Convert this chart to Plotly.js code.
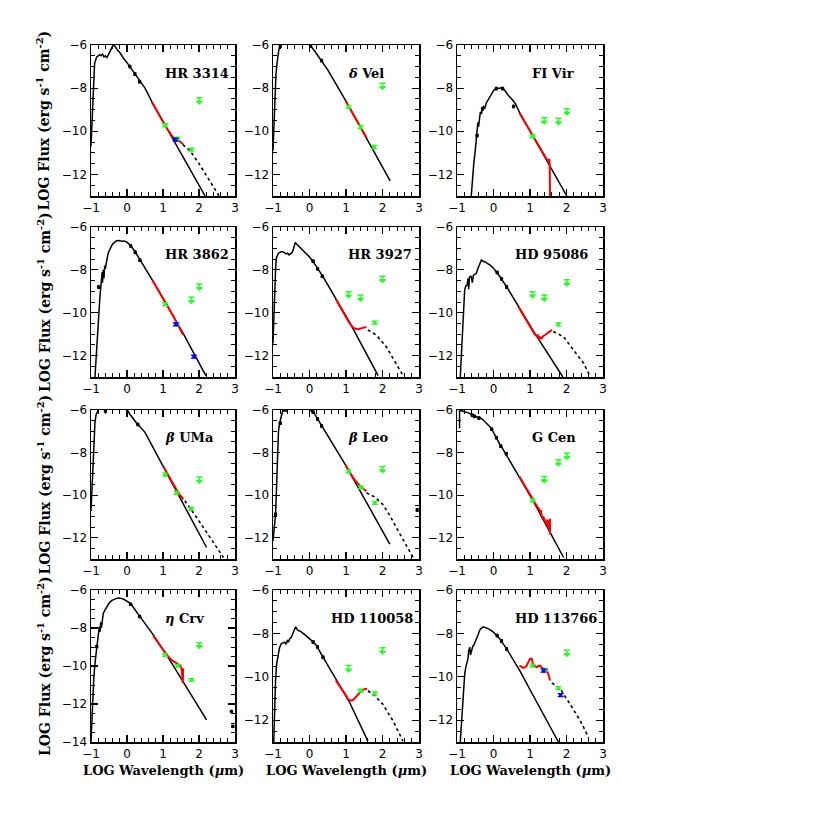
<!DOCTYPE html>
<html><head><meta charset="utf-8">
<script src="https://cdn.plot.ly/plotly-3.0.1.min.js"></script>
<style>html,body{margin:0;padding:0;background:#fff}#chart{width:830px;height:830px}</style>
</head><body><div id="chart"></div>
<script>
// ---------------- DATA (log wavelength [um], log flux [erg s-1 cm-2]) ----------------
const panelNames = ["HR 3314", "<i>δ</i> Vel", "FI Vir", "HR 3862", "HR 3927", "HD 95086",
                    "<i>β</i> UMa", "<i>β</i> Leo", "G Cen", "<i>η</i> Crv", "HD 110058", "HD 113766"];
const xTickVals = [-1, 0, 1, 2, 3];

// HR 3314
const HR3314_star = [[-1.0,-10.7],[-0.98,-10.0],[-0.96,-9.2],[-0.94,-8.0],[-0.92,-7.2],[-0.9,-6.85],[-0.87,-6.7],[-0.84,-6.55],[-0.8,-6.5],[-0.76,-6.45],[-0.72,-6.5],[-0.68,-6.42],[-0.64,-6.55],[-0.6,-6.5],[-0.56,-6.6],[-0.52,-6.45],[-0.48,-6.35],[-0.44,-6.2],[-0.4,-6.05],[-0.36,-6.0],[-0.33,-6.08],[-0.3,-6.12],[-0.26,-6.25],[-0.2,-6.35],[-0.15,-6.45],[-0.1,-6.6],[0.0,-6.82],[0.1,-7.05],[0.2,-7.3],[0.3,-7.55],[0.4,-7.78],[0.5,-8.0],[0.69,-8.62],[1.0,-9.55],[2.17,-13.0]];
const HR3314_dots = [[0.08,-7.0],[0.22,-7.35],[0.35,-7.7]];
const HR3314_model = [[1.55,-10.62],[1.75,-10.9],[2.0,-11.5],[2.25,-12.2],[2.56,-13.0]];
const HR3314_irs = [[0.69,-8.64],[0.9,-9.25],[1.1,-9.85],[1.29,-10.3],[1.43,-10.42],[1.56,-10.6]];
const HR3314_det = [[1.06,-9.72],[1.41,-10.34],[1.79,-10.85]];
const HR3314_ul = [[2.01,-8.64]];
const HR3314_blue = [[1.35,-10.39]];

// delta Vel
const dVel_star = [[-1.0,-10.9],[-0.97,-9.5],[-0.95,-8.4],[-0.92,-7.4],[-0.89,-6.85],[-0.86,-6.45],[-0.84,-6.23],[-0.8,-6.0],[-0.75,-5.7],[-0.6,-5.0],[-0.3,-4.9],[-0.05,-5.7],[0.0,-6.0],[0.05,-6.08],[0.15,-6.3],[0.25,-6.55],[0.32,-6.7],[0.5,-7.15],[1.01,-8.64],[2.21,-12.3]];
const dVel_dots = [[-0.8,-6.05],[0.03,-6.05],[0.33,-6.72]];
const dVel_model = [];
const dVel_irs = [[0.99,-8.6],[1.2,-9.22],[1.4,-9.8],[1.56,-10.29]];
const dVel_det = [[1.07,-8.87],[1.4,-9.8],[1.77,-10.73]];
const dVel_ul = [[2.0,-7.97]];
const dVel_blue = [];

// FI Vir
const FIVir_star = [[-0.61,-13.0],[-0.58,-12.2],[-0.54,-11.5],[-0.5,-10.9],[-0.47,-10.42],[-0.45,-10.0],[-0.43,-9.6],[-0.41,-9.8],[-0.39,-9.35],[-0.36,-9.1],[-0.33,-9.2],[-0.3,-8.9],[-0.27,-8.85],[-0.24,-8.95],[-0.2,-8.7],[-0.15,-8.55],[-0.1,-8.4],[-0.05,-8.25],[0.0,-8.12],[0.05,-8.05],[0.1,-8.0],[0.15,-8.02],[0.2,-7.98],[0.25,-8.05],[0.3,-8.08],[0.35,-8.2],[0.4,-8.33],[0.5,-8.5],[0.6,-8.72],[0.72,-9.15],[1.09,-10.26],[1.46,-11.3],[2.01,-13.0]];
const FIVir_dots = [[-0.45,-10.2],[-0.3,-8.95],[0.08,-8.02],[0.25,-8.02],[0.55,-8.85]];
const FIVir_model = [];
const FIVir_irs = [[0.71,-9.15],[0.9,-9.7],[1.1,-10.3],[1.3,-10.85],[1.46,-11.3],[1.5,-11.35],[1.53,-11.3],[1.54,-11.6],[1.55,-13.2]];
const FIVir_det = [[1.07,-10.23]];
const FIVir_ul = [[1.39,-9.57],[1.78,-9.6],[2.01,-9.15]];
const FIVir_blue = [];

// HR 3862
const HR3862_star = [[-0.89,-13.0],[-0.86,-12.1],[-0.84,-11.43],[-0.81,-10.6],[-0.78,-9.87],[-0.75,-9.2],[-0.73,-8.86],[-0.71,-8.3],[-0.69,-8.1],[-0.68,-8.6],[-0.66,-8.0],[-0.64,-8.4],[-0.62,-7.8],[-0.6,-7.95],[-0.58,-7.6],[-0.56,-7.54],[-0.52,-7.2],[-0.47,-7.0],[-0.42,-6.85],[-0.38,-6.76],[-0.33,-6.68],[-0.29,-6.64],[-0.22,-6.63],[-0.15,-6.66],[-0.08,-6.65],[-0.01,-6.7],[0.06,-6.8],[0.13,-6.92],[0.25,-7.22],[0.36,-7.54],[0.73,-8.55],[1.01,-9.35],[1.56,-10.96],[2.19,-12.94]];
const HR3862_dots = [[-1.07,-8.6],[-0.79,-8.8],[0.1,-6.88],[0.23,-7.18],[0.36,-7.55]];
const HR3862_model = [];
const HR3862_irs = [[0.71,-8.5],[1.0,-9.33],[1.3,-10.2],[1.56,-11.04]];
const HR3862_det = [[1.06,-9.6],[1.38,-10.54]];
const HR3862_ul = [[1.79,-9.48],[2.01,-8.86]];
const HR3862_blue = [[1.36,-10.54],[1.86,-12.05]];

// HR 3927
const HR3927_star = [[-1.0,-11.43],[-0.98,-10.2],[-0.96,-9.5],[-0.95,-8.94],[-0.93,-8.0],[-0.91,-7.46],[-0.88,-7.3],[-0.85,-7.22],[-0.82,-7.2],[-0.78,-7.15],[-0.73,-7.15],[-0.68,-7.2],[-0.64,-7.25],[-0.6,-7.22],[-0.56,-7.3],[-0.52,-7.25],[-0.48,-7.2],[-0.45,-7.08],[-0.42,-6.9],[-0.39,-6.72],[-0.36,-6.78],[-0.32,-6.85],[-0.28,-6.92],[-0.22,-6.98],[-0.18,-7.08],[-0.1,-7.22],[0.0,-7.4],[0.1,-7.62],[0.19,-7.85],[0.37,-8.32],[0.74,-9.4],[1.1,-10.45],[1.88,-12.94]];
const HR3927_dots = [[0.1,-7.6],[0.22,-7.95],[0.35,-8.3]];
const HR3927_model = [[1.6,-10.8],[1.83,-11.04],[2.1,-11.58],[2.38,-12.36],[2.58,-12.98]];
const HR3927_irs = [[0.72,-9.37],[0.9,-9.9],[1.1,-10.5],[1.19,-10.68],[1.26,-10.75],[1.33,-10.77],[1.4,-10.74],[1.47,-10.73],[1.52,-10.7],[1.56,-10.66]];
const HR3927_det = [[1.79,-10.46]];
const HR3927_ul = [[1.07,-9.22],[1.4,-9.37],[2.0,-8.5]];
const HR3927_blue = [];

// HD 95086
const HD95086_star = [[-0.91,-13.0],[-0.88,-11.8],[-0.85,-10.65],[-0.82,-9.6],[-0.79,-8.94],[-0.76,-8.75],[-0.72,-8.7],[-0.7,-8.4],[-0.68,-8.9],[-0.66,-8.35],[-0.63,-8.3],[-0.61,-8.32],[-0.58,-8.6],[-0.55,-8.25],[-0.5,-8.2],[-0.47,-8.16],[-0.42,-7.9],[-0.38,-7.7],[-0.33,-7.54],[-0.29,-7.6],[-0.24,-7.62],[-0.17,-7.7],[-0.1,-7.77],[0.0,-7.92],[0.08,-8.09],[0.2,-8.38],[0.36,-8.79],[0.68,-9.72],[1.09,-10.85],[1.9,-13.0]];
const HD95086_dots = [[0.1,-8.12],[0.22,-8.42],[0.36,-8.8]];
const HD95086_model = [[1.64,-10.88],[1.92,-11.12],[2.19,-11.74],[2.47,-12.36],[2.65,-12.98]];
const HD95086_irs = [[0.68,-9.72],[0.85,-10.2],[1.05,-10.8],[1.12,-10.98],[1.18,-11.09],[1.22,-11.05],[1.25,-11.25],[1.28,-11.15],[1.32,-11.2],[1.36,-11.1],[1.41,-11.04],[1.47,-10.95],[1.53,-10.88],[1.6,-10.8]];
const HD95086_det = [[1.78,-10.54]];
const HD95086_ul = [[1.07,-9.22],[1.39,-9.37],[2.01,-8.66]];
const HD95086_blue = [];

// beta UMa
const bUMa_star = [[-1.0,-10.75],[-0.98,-10.0],[-0.96,-9.19],[-0.94,-8.0],[-0.92,-7.17],[-0.89,-6.6],[-0.86,-6.23],[-0.83,-6.08],[-0.8,-5.95],[-0.7,-5.6],[-0.1,-5.6],[-0.01,-5.95],[0.08,-6.2],[0.18,-6.42],[0.27,-6.62],[0.5,-7.05],[1.01,-8.65],[2.21,-12.46]];
const bUMa_dots = [[-0.6,-6.05],[0.3,-6.68]];
const bUMa_model = [[1.5,-10.05],[1.61,-10.28],[1.94,-11.06],[2.31,-12.0],[2.68,-12.93]];
const bUMa_irs = [[1.01,-8.65],[1.2,-9.22],[1.4,-9.82],[1.56,-10.2]];
const bUMa_det = [[1.06,-9.04],[1.38,-9.89],[1.79,-10.64]];
const bUMa_ul = [[2.01,-9.35]];
const bUMa_blue = [];

// beta Leo
const bLeo_star = [[-1.0,-12.15],[-0.96,-11.5],[-0.93,-10.9],[-0.9,-9.5],[-0.87,-7.9],[-0.85,-7.0],[-0.82,-6.62],[-0.79,-6.4],[-0.77,-6.23],[-0.75,-6.1],[-0.73,-6.0],[-0.7,-6.05],[-0.67,-5.98],[-0.64,-6.08],[-0.62,-6.0],[-0.6,-5.9],[-0.5,-5.5],[-0.1,-5.5],[0.0,-6.0],[0.1,-6.08],[0.2,-6.35],[0.32,-6.7],[1.01,-8.65],[2.2,-12.3]];
const bLeo_dots = [[-0.93,-10.9],[-0.8,-6.62],[0.1,-6.1],[0.22,-6.42],[0.33,-6.75],[2.95,-10.7]];
const bLeo_model = [[1.56,-9.89],[1.8,-10.1],[2.01,-10.44],[2.2,-10.95],[2.38,-11.53],[2.74,-12.62],[2.84,-12.93]];
const bLeo_irs = [[0.99,-8.6],[1.2,-9.2],[1.4,-9.6],[1.56,-9.82]];
const bLeo_det = [[1.07,-8.88],[1.4,-9.63],[1.79,-10.36]];
const bLeo_ul = [[2.0,-8.85]];
const bLeo_blue = [];

// G Cen
const GCen_star = [[-0.93,-6.86],[-0.93,-6.0],[-0.9,-6.02],[-0.83,-6.05],[-0.75,-6.12],[-0.65,-6.16],[-0.56,-6.25],[-0.47,-6.31],[-0.4,-6.4],[-0.35,-6.38],[-0.28,-6.47],[-0.2,-6.6],[-0.1,-6.78],[0.0,-7.05],[0.08,-7.32],[0.17,-7.6],[0.27,-7.87],[0.72,-9.19],[1.09,-10.28],[1.92,-12.93]];
const GCen_dots = [[-0.58,-6.25],[-0.52,-6.3],[-0.4,-6.38],[-0.05,-6.9],[0.08,-7.3],[0.2,-7.7],[0.35,-8.05]];
const GCen_model = [];
const GCen_irs = [[0.71,-9.12],[0.9,-9.7],[1.09,-10.28],[1.2,-10.55],[1.25,-10.65],[1.28,-10.8],[1.3,-10.7],[1.33,-11.1],[1.36,-11.0],[1.41,-11.22],[1.45,-11.35],[1.48,-11.15],[1.5,-11.53],[1.52,-11.2],[1.55,-11.84],[1.55,-11.1]];
const GCen_det = [[1.07,-10.25]];
const GCen_ul = [[1.39,-9.32],[1.78,-8.54],[2.01,-8.23]];
const GCen_blue = [];

// eta Crv
const eCrv_star = [[-1.0,-14.0],[-0.97,-12.48],[-0.95,-11.5],[-0.92,-10.55],[-0.88,-9.7],[-0.84,-8.98],[-0.8,-8.4],[-0.77,-7.93],[-0.75,-8.2],[-0.73,-7.7],[-0.71,-8.0],[-0.69,-7.5],[-0.66,-7.23],[-0.61,-7.05],[-0.56,-6.88],[-0.5,-6.7],[-0.43,-6.56],[-0.36,-6.48],[-0.29,-6.44],[-0.22,-6.42],[-0.15,-6.44],[-0.08,-6.5],[-0.01,-6.56],[0.06,-6.66],[0.13,-6.79],[0.25,-7.08],[0.36,-7.4],[0.73,-8.36],[1.1,-9.42],[2.21,-12.83]];
const eCrv_dots = [[-1.06,-8.98],[-0.84,-8.98],[0.1,-6.75],[0.35,-7.4],[2.9,-12.39],[2.94,-13.18]];
const eCrv_model = [];
const eCrv_irs = [[0.73,-8.42],[0.85,-8.75],[1.01,-9.15],[1.1,-9.4],[1.19,-9.59],[1.28,-9.75],[1.38,-9.85],[1.45,-9.94],[1.49,-10.0],[1.52,-10.2],[1.55,-10.9],[1.56,-10.12]];
const eCrv_det = [[1.06,-9.42],[1.41,-9.99],[1.79,-10.73]];
const eCrv_ul = [[2.01,-8.98]];
const eCrv_blue = [];

// HD 110058
const HD110058_star = [[-0.98,-13.0],[-0.96,-11.5],[-0.93,-10.17],[-0.9,-9.4],[-0.86,-8.94],[-0.82,-8.65],[-0.77,-8.47],[-0.72,-8.42],[-0.68,-8.4],[-0.64,-8.5],[-0.6,-8.3],[-0.57,-8.4],[-0.54,-8.24],[-0.5,-8.18],[-0.45,-8.01],[-0.42,-7.85],[-0.38,-7.7],[-0.35,-7.78],[-0.32,-7.86],[-0.25,-7.9],[-0.18,-7.98],[-0.1,-8.1],[0.0,-8.24],[0.1,-8.4],[0.19,-8.55],[0.37,-9.09],[0.74,-10.17],[1.1,-11.18],[1.6,-12.96]];
const HD110058_dots = [[0.1,-8.4],[0.22,-8.62],[0.37,-9.1]];
const HD110058_model = [[1.6,-10.64],[1.79,-10.87],[2.01,-11.26],[2.29,-12.03],[2.56,-12.96]];
const HD110058_irs = [[0.72,-10.17],[0.82,-10.4],[0.92,-10.64],[1.0,-10.85],[1.05,-11.03],[1.1,-11.08],[1.15,-11.1],[1.2,-11.05],[1.24,-10.98],[1.3,-10.85],[1.37,-10.72],[1.44,-10.62],[1.51,-10.56],[1.58,-10.56]];
const HD110058_det = [[1.4,-10.64],[1.79,-10.76]];
const HD110058_ul = [[1.07,-9.68],[2.0,-8.86]];
const HD110058_blue = [];

// HD 113766
const HD113766_star = [[-0.91,-13.0],[-0.87,-11.8],[-0.83,-10.64],[-0.79,-9.9],[-0.76,-9.56],[-0.73,-9.3],[-0.7,-9.17],[-0.68,-8.8],[-0.65,-8.63],[-0.63,-9.0],[-0.6,-8.7],[-0.57,-8.6],[-0.54,-8.55],[-0.5,-8.4],[-0.47,-8.24],[-0.42,-8.05],[-0.38,-7.86],[-0.33,-7.75],[-0.28,-7.7],[-0.22,-7.73],[-0.15,-7.78],[-0.08,-7.85],[-0.01,-7.93],[0.08,-8.08],[0.17,-8.24],[0.36,-8.71],[0.72,-9.71],[1.09,-10.87],[1.78,-13.0]];
const HD113766_dots = [[0.1,-8.1],[0.22,-8.35],[0.36,-8.72]];
const HD113766_model = [[1.6,-10.28],[1.83,-10.56],[2.1,-11.26],[2.38,-12.03],[2.61,-12.8]];
const HD113766_irs = [[0.71,-9.48],[0.76,-9.55],[0.82,-9.59],[0.87,-9.55],[0.91,-9.48],[0.96,-9.3],[1.0,-9.17],[1.05,-9.17],[1.09,-9.48],[1.13,-9.5],[1.18,-9.56],[1.23,-9.5],[1.28,-9.48],[1.32,-9.58],[1.37,-9.63],[1.42,-9.66],[1.46,-9.68],[1.5,-9.87],[1.53,-10.0],[1.55,-10.17]];
const HD113766_det = [[1.07,-9.48],[1.41,-9.68],[1.78,-10.52]];
const HD113766_ul = [[2.01,-8.97]];
const HD113766_blue = [[1.37,-9.71],[1.84,-10.84]];

const yRanges = [[-13,-6],[-13,-6],[-13,-6],[-13,-6],[-13,-6],[-13,-6],[-13,-6],[-13,-6],[-13,-6],[-14,-6],[-13,-6],[-13,-6]];

// ---------------- BUILD ----------------
const panels = [
  [HR3314_star, HR3314_dots, HR3314_model, HR3314_irs, HR3314_det, HR3314_ul, HR3314_blue],
  [dVel_star, dVel_dots, dVel_model, dVel_irs, dVel_det, dVel_ul, dVel_blue],
  [FIVir_star, FIVir_dots, FIVir_model, FIVir_irs, FIVir_det, FIVir_ul, FIVir_blue],
  [HR3862_star, HR3862_dots, HR3862_model, HR3862_irs, HR3862_det, HR3862_ul, HR3862_blue],
  [HR3927_star, HR3927_dots, HR3927_model, HR3927_irs, HR3927_det, HR3927_ul, HR3927_blue],
  [HD95086_star, HD95086_dots, HD95086_model, HD95086_irs, HD95086_det, HD95086_ul, HD95086_blue],
  [bUMa_star, bUMa_dots, bUMa_model, bUMa_irs, bUMa_det, bUMa_ul, bUMa_blue],
  [bLeo_star, bLeo_dots, bLeo_model, bLeo_irs, bLeo_det, bLeo_ul, bLeo_blue],
  [GCen_star, GCen_dots, GCen_model, GCen_irs, GCen_det, GCen_ul, GCen_blue],
  [eCrv_star, eCrv_dots, eCrv_model, eCrv_irs, eCrv_det, eCrv_ul, eCrv_blue],
  [HD110058_star, HD110058_dots, HD110058_model, HD110058_irs, HD110058_det, HD110058_ul, HD110058_blue],
  [HD113766_star, HD113766_dots, HD113766_model, HD113766_irs, HD113766_det, HD113766_ul, HD113766_blue]
];

const W = 830, H = 830;
const colPx = [[91,235],[273,419],[457,603]];
const rowPx = [[45,196],[227,377],[410,559],[590,742]];
const GREEN = '#22ff22', RED = '#ff0000', BLUE = '#0000ff';
const X = a => a.map(p => p[0]);
const Y = a => a.map(p => p[1]);

const data = [];
const layout = {
  width: W, height: H, showlegend: false,
  margin: {l:0, r:0, t:0, b:0},
  paper_bgcolor: '#fff', plot_bgcolor: '#fff',
  annotations: []
};
const labFont = {family: 'DejaVu Serif', size: 13, color: '#000', weight: 'bold'};

panels.forEach((p, i) => {
  const k = i + 1;
  const xa = k === 1 ? 'x' : 'x' + k;
  const ya = k === 1 ? 'y' : 'y' + k;
  const col = i % 3, row = Math.floor(i / 3);
  const [star, dots, model, irs, det, ul, blue] = p;
  const common = {xaxis: xa, yaxis: ya, hoverinfo: 'skip'};
  data.push(Object.assign({type:'scatter', mode:'lines', x:X(star), y:Y(star), line:{color:'#000', width:1.5}}, common));
  if (model.length) data.push(Object.assign({type:'scatter', mode:'lines', x:X(model), y:Y(model), line:{color:'#000', width:1.6, dash:'dot'}}, common));
  data.push(Object.assign({type:'scatter', mode:'markers', x:X(dots), y:Y(dots), cliponaxis:false,
    marker:{color:'#000', size:3.5, symbol:'circle'},
    error_y:{type:'constant', value:0.06, color:'#000', thickness:1, width:1.5}}, common));
  data.push(Object.assign({type:'scatter', mode:'lines', x:X(irs), y:Y(irs), line:{color:RED, width:2}}, common));
  if (det.length) data.push(Object.assign({type:'scatter', mode:'markers', x:X(det), y:Y(det),
    marker:{symbol:'square', size:3.5, color:GREEN, line:{width:0}},
    error_y:{type:'constant', value:0.07, color:GREEN, thickness:1.3, width:3}}, common));
  if (ul.length) data.push(Object.assign({type:'scatter', mode:'markers', x:X(ul), y:Y(ul),
    marker:{symbol:'triangle-down', size:6, color:GREEN, line:{width:0}},
    error_y:{type:'constant', symmetric:false, value:0.2, valueminus:0, color:GREEN, thickness:1.5, width:3}}, common));
  if (blue.length) data.push(Object.assign({type:'scatter', mode:'markers', x:X(blue), y:Y(blue),
    marker:{symbol:'square', size:3.5, color:BLUE, line:{width:0}},
    error_y:{type:'constant', value:0.07, color:BLUE, thickness:1.3, width:3}}, common));

  const axBase = {showgrid:false, zeroline:false, showline:true, linecolor:'#000', linewidth:1.5,
    mirror:'allticks', ticks:'inside', ticklen:7, tickwidth:1.2, tickcolor:'#000',
    tickfont:{family:'DejaVu Sans', size:12, color:'#000'}, fixedrange:true};
  layout['xaxis' + (k === 1 ? '' : k)] = Object.assign({}, axBase, {
    domain:[colPx[col][0]/W, colPx[col][1]/W], anchor: ya, range:[-1,3],
    tickmode:'array', tickvals:xTickVals,
    minor:{ticks:'inside', ticklen:4, dtick:0.2, tick0:-1, tickcolor:'#000', tickwidth:1, showgrid:false}
  });
  layout['yaxis' + (k === 1 ? '' : k)] = Object.assign({}, axBase, {
    domain:[1 - rowPx[row][1]/H, 1 - rowPx[row][0]/H], anchor: xa, range: yRanges[i],
    tick0:-6, dtick:2,
    minor:{ticks:'inside', ticklen:4, dtick:0.5, tick0:-6, tickcolor:'#000', tickwidth:1, showgrid:false}
  });
  const hd = panelNames[i].startsWith('HD');
  layout.annotations.push({text: panelNames[i], xref: xa + ' domain', yref: ya + ' domain',
    x: hd ? 0.385 : 0.5, y: 1 - 28/151, xanchor:'left', yanchor:'middle', showarrow:false, font: labFont});
  if (col === 0) {
    layout.annotations.push({text:'LOG Flux (erg s<sup>-1</sup> cm<sup>-2</sup>)', xref:'paper', yref:'paper',
      x: 44/W, y: 1 - (rowPx[row][0] + rowPx[row][1]) / 2 / H, textangle:-90,
      xanchor:'center', yanchor:'middle', showarrow:false, font: Object.assign({}, labFont, {size:14})});
  }
  if (row === 3) {
    layout.annotations.push({text:'LOG Wavelength (<i>μ</i>m)', xref:'paper', yref:'paper',
      x: (colPx[col][0] + colPx[col][1]) / 2 / W, y: 1 - 770/H,
      xanchor:'center', yanchor:'middle', showarrow:false, font: labFont});
  }
});

Plotly.newPlot('chart', data, layout, {staticPlot:true, displayModeBar:false});
</script></body></html>
